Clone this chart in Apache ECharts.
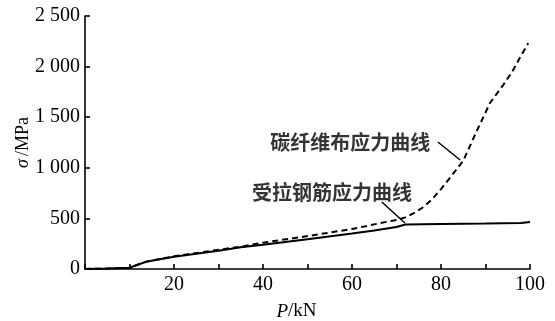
<!DOCTYPE html>
<html><head><meta charset="utf-8">
<script src="https://cdn.jsdelivr.net/npm/echarts@6/dist/echarts.min.js"></script>
<style>html,body{margin:0;padding:0;background:#fff}#c{width:555px;height:321px}</style>
</head><body><div id="c"></div>
<script>
// Data
var steelP = [0, 5, 10, 12, 14, 20, 30, 35, 40, 50, 60, 65, 70, 72, 80, 90, 98, 100];
var steelS = [0, 5, 12, 45, 75, 120, 180, 215, 240, 295, 350, 380, 415, 440, 445, 450, 455, 465];
var cfrpP = [0, 5, 10, 12, 14, 20, 30, 35, 40, 50, 60, 66, 70, 72, 74, 76, 78, 80, 82, 85, 88, 91, 94, 96, 98, 99.6];
var cfrpS = [0, 5, 12, 45, 75, 125, 190, 220, 260, 325, 395, 450, 485, 510, 555, 610, 690, 790, 900, 1070, 1360, 1640, 1820, 1950, 2110, 2230];
var labels = ['碳纤维布应力曲线', '受拉钢筋应力曲线'];
var labelPos = [[59.6, 1255], [55.5, 760]];
var leader1 = [[79.3, 1255], [84.3, 1077]];
var leader2 = [[66.7, 662], [71.9, 455]];

function zip(a, b) { return a.map(function (v, i) { return [v, b[i]]; }); }

var serif = 'Liberation Serif';
var chart = echarts.init(document.getElementById('c'));
chart.setOption({
  backgroundColor: '#fff',
  animation: false,
  grid: { left: 85, right: 25, top: 16, bottom: 52, containLabel: false, outerBoundsMode: 'none' },
  xAxis: {
    type: 'value', min: 0, max: 100, interval: 10,
    name: '{i|P}{n|/kN}', nameLocation: 'middle', nameGap: 33, nameMoveOverlap: false,
    nameTextStyle: { padding: [0, 22, 0, 0], rich: {
      i: { fontFamily: serif, fontStyle: 'italic', fontSize: 19, color: '#000' },
      n: { fontFamily: serif, fontSize: 19, color: '#000' } } },
    axisLine: { lineStyle: { color: '#000', width: 1.6 } },
    axisTick: { inside: true, length: 5, lineStyle: { color: '#000', width: 1.6 } },
    splitLine: { show: false },
    axisLabel: { fontFamily: serif, fontSize: 20, color: '#000', margin: 6,
      formatter: function (v) { return (v > 0 && v % 20 === 0) ? String(v) : ''; } }
  },
  yAxis: {
    type: 'value', min: 0, max: 2500, interval: 500,
    name: '{i|σ} {n|/MPa}', nameLocation: 'middle', nameGap: 53, nameRotate: 90, nameMoveOverlap: false,
    nameTextStyle: { rich: {
      i: { fontFamily: serif, fontStyle: 'italic', fontSize: 18, color: '#000' },
      n: { fontFamily: serif, fontSize: 18, color: '#000' } } },
    axisLine: { show: true, lineStyle: { color: '#000', width: 1.6 } },
    axisTick: { show: true, inside: true, length: 5, lineStyle: { color: '#000', width: 1.6 } },
    splitLine: { show: false },
    axisLabel: { fontFamily: serif, fontSize: 20, color: '#000', margin: 5,
      formatter: function (v) { return v >= 1000 ? Math.floor(v / 1000) + ' ' + String(v % 1000).padStart(3, '0') : String(v); } }
  },
  series: [
    { type: 'line', data: zip(steelP, steelS), showSymbol: false, smooth: false,
      lineStyle: { color: '#000', width: 2 },
      markLine: { silent: true, symbol: 'none', label: { show: false },
        lineStyle: { color: '#000', width: 1.5, type: 'solid' },
        data: [[{ coord: leader1[0] }, { coord: leader1[1] }], [{ coord: leader2[0] }, { coord: leader2[1] }]] } },
    { type: 'line', data: zip(cfrpP, cfrpS), showSymbol: false, smooth: false,
      lineStyle: { color: '#000', width: 2, type: [6, 4] } },
    { type: 'scatter', data: labelPos.map(function (p, i) { return { value: p, name: labels[i] }; }),
      symbolSize: 0, silent: true,
      label: { show: true, position: 'inside', formatter: '{b}', color: '#000',
        fontFamily: 'Noto Sans CJK SC', fontWeight: 'bold', fontSize: 20 } }
  ]
});
</script></body></html>
